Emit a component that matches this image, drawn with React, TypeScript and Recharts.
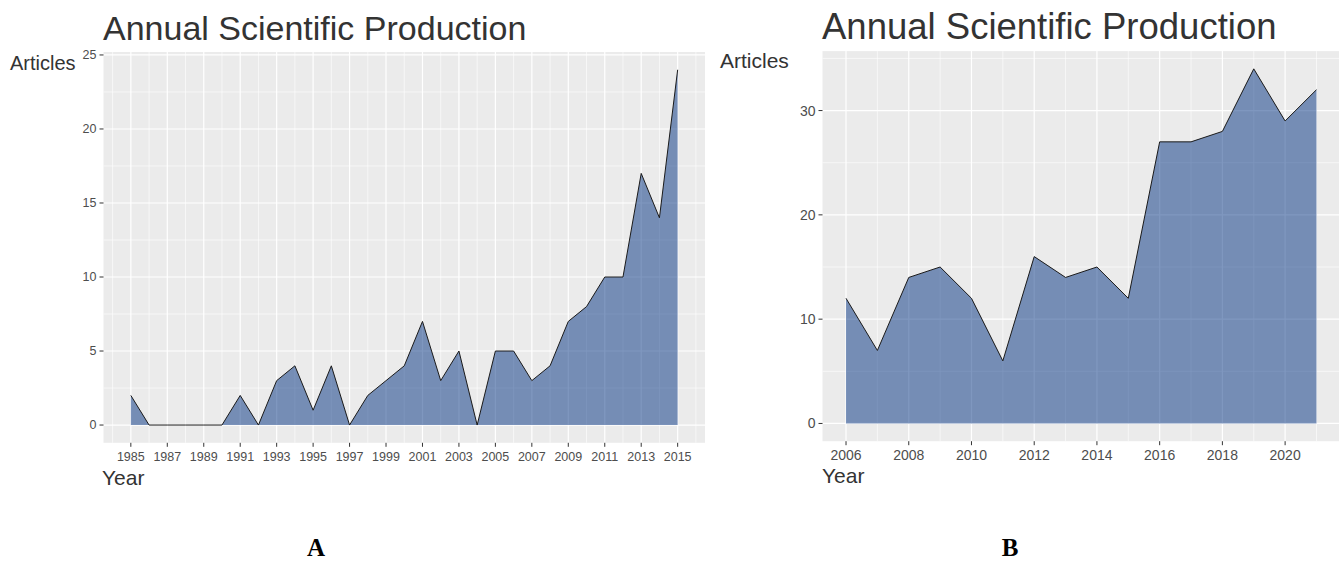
import React from "react";
import { AreaChart, Area, XAxis, YAxis, CartesianGrid } from "recharts";

// Panel A: 1985-2015
const yearsA = [
  1985, 1986, 1987, 1988, 1989, 1990, 1991, 1992, 1993, 1994, 1995, 1996, 1997, 1998, 1999, 2000,
  2001, 2002, 2003, 2004, 2005, 2006, 2007, 2008, 2009, 2010, 2011, 2012, 2013, 2014, 2015,
];
const articlesA = [
  2, 0, 0, 0, 0, 0, 2, 0, 3, 4, 1, 4, 0, 2, 3, 4,
  7, 3, 5, 0, 5, 5, 3, 4, 7, 8, 10, 10, 17, 14, 24,
];
const xTicksA = [1985, 1987, 1989, 1991, 1993, 1995, 1997, 1999, 2001, 2003, 2005, 2007, 2009, 2011, 2013, 2015];
const xMinorA = [1984, 1986, 1988, 1990, 1992, 1994, 1996, 1998, 2000, 2002, 2004, 2006, 2008, 2010, 2012, 2014, 2016];
const yTicksA = [0, 5, 10, 15, 20, 25];
const yMinorA = [2.5, 7.5, 12.5, 17.5, 22.5];

// Panel B: 2006-2021
const yearsB = [2006, 2007, 2008, 2009, 2010, 2011, 2012, 2013, 2014, 2015, 2016, 2017, 2018, 2019, 2020, 2021];
const articlesB = [12, 7, 14, 15, 12, 6, 16, 14, 15, 12, 27, 27, 28, 34, 29, 32];
const xTicksB = [2006, 2008, 2010, 2012, 2014, 2016, 2018, 2020];
const xMinorB = [2007, 2009, 2011, 2013, 2015, 2017, 2019, 2021];
const yTicksB = [0, 10, 20, 30];
const yMinorB = [5, 15, 25, 35];

const FONT = "'Liberation Sans', Arial, sans-serif";
const PANEL_BG = "#EBEBEB";

type PanelProps = {
  years: number[];
  values: number[];
  xTicks: number[];
  xMinor: number[];
  yTicks: number[];
  yMinor: number[];
  xDomain: [number, number];
  yDomain: [number, number];
  width: number;
  height: number;
  yAxisWidth: number;
  margin: { top: number; right: number; bottom: number; left: number };
  fontSize: number;
};

function Panel(p: PanelProps) {
  const data = p.years.map((y, i) => ({ year: y, articles: p.values[i] }));
  const tick = { fill: "#4D4D4D", fontSize: p.fontSize, fontFamily: FONT };
  return (
    <AreaChart width={p.width} height={p.height} data={data} margin={p.margin}>
      <CartesianGrid
        fill={PANEL_BG}
        fillOpacity={1}
        stroke="#FFFFFF"
        strokeWidth={0.6}
        horizontalValues={p.yMinor}
        verticalValues={p.xMinor}
      />
      <CartesianGrid
        stroke="#FFFFFF"
        strokeWidth={1.2}
        horizontalValues={p.yTicks}
        verticalValues={p.xTicks}
      />
      <XAxis
        dataKey="year"
        type="number"
        domain={p.xDomain}
        ticks={p.xTicks}
        allowDataOverflow
        interval={0}
        axisLine={false}
        tickLine={{ stroke: "#333333" }}
        tickSize={4}
        tickMargin={5}
        height={30}
        tick={tick}
      />
      <YAxis
        type="number"
        domain={p.yDomain}
        ticks={p.yTicks}
        allowDataOverflow
        interval={0}
        axisLine={false}
        tickLine={{ stroke: "#333333" }}
        tickSize={4}
        tickMargin={3}
        width={p.yAxisWidth}
        tick={tick}
      />
      <Area
        type="linear"
        dataKey="articles"
        baseValue={0}
        stroke="#1A1A1A"
        strokeWidth={1}
        fill="#002F80"
        fillOpacity={0.5}
        dot={false}
        activeDot={false}
        isAnimationActive={false}
      />
    </AreaChart>
  );
}

export default function App() {
  return (
    <div
      style={{
        position: "absolute",
        left: 0,
        top: 0,
        width: 1339,
        height: 562,
        background: "#FFFFFF",
        overflow: "hidden",
      }}
    >
      <div style={{ position: "absolute", left: 0, top: 0 }}>
        <Panel
          years={yearsA}
          values={articlesA}
          xTicks={xTicksA}
          xMinor={xMinorA}
          yTicks={yTicksA}
          yMinor={yMinorA}
          xDomain={[1983.5, 2016.5]}
          yDomain={[-1.2, 25.2]}
          width={720}
          height={500}
          yAxisWidth={103.5}
          margin={{ top: 52, right: 15, bottom: 27.2, left: 0 }}
          fontSize={12.5}
        />
      </div>
      <div style={{ position: "absolute", left: 700, top: 0 }}>
        <Panel
          years={yearsB}
          values={articlesB}
          xTicks={xTicksB}
          xMinor={xMinorB}
          yTicks={yTicksB}
          yMinor={yMinorB}
          xDomain={[2005.25, 2021.75]}
          yDomain={[-1.7, 35.7]}
          width={640}
          height={500}
          yAxisWidth={122.5}
          margin={{ top: 51.1, right: 0, bottom: 28.8, left: 0 }}
          fontSize={14}
        />
      </div>
      <svg
        width={1339}
        height={562}
        style={{ position: "absolute", left: 0, top: 0, pointerEvents: "none" }}
        fontFamily={FONT}
      >
        <text x={103} y={40} fontSize={34} fill="#333333">Annual Scientific Production</text>
        <text x={822} y={39} fontSize={36.5} fill="#333333">Annual Scientific Production</text>
        <text x={10} y={70} fontSize={20} fill="#333333">Articles</text>
        <text x={720} y={68} fontSize={21} fill="#333333">Articles</text>
        <text x={102} y={485} fontSize={21} fill="#333333">Year</text>
        <text x={822} y={483} fontSize={21} fill="#333333">Year</text>
        <text x={316} y={556} fontSize={25} fontWeight="bold" textAnchor="middle" fontFamily="'Liberation Serif', 'Times New Roman', serif" fill="#000000">A</text>
        <text x={1010} y={556} fontSize={25} fontWeight="bold" textAnchor="middle" fontFamily="'Liberation Serif', 'Times New Roman', serif" fill="#000000">B</text>
      </svg>
    </div>
  );
}
